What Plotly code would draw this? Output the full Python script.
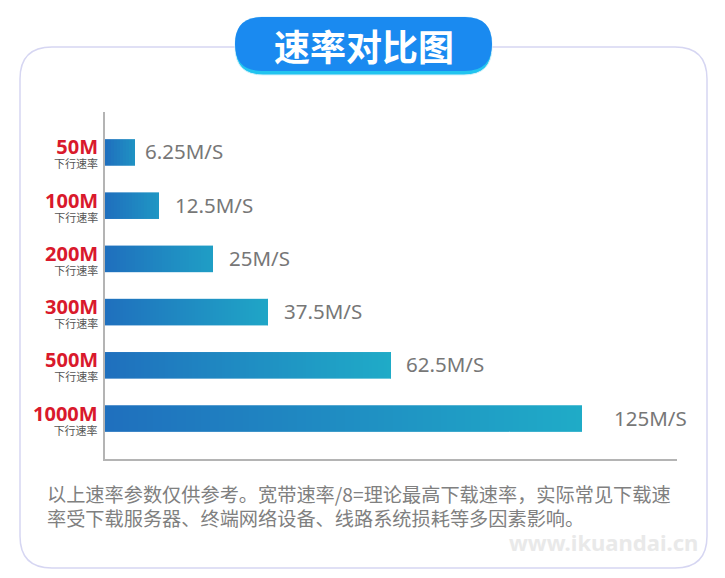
import plotly.graph_objects as go

# categories and read-off values
speeds = ['50M', '100M', '200M', '300M', '500M', '1000M']
rates = ['6.25M/S', '12.5M/S', '25M/S', '37.5M/S', '62.5M/S', '125M/S']
# drawn bar lengths as measured in the picture, they are not proportional to the rates
bar_lengths = [30, 54, 108, 163, 286, 477]
label_gaps = [8, 14, 14, 14, 13, 30]

title = '速率对比图'
sub_label = '下行速率'
note_lines = ['以上速率参数仅供参考。宽带速率/8=理论最高下载速率，实际常见下载速',
              '率受下载服务器、终端网络设备、线路系统损耗等多因素影响。']
watermark = 'www.ikuandai.cn'

W, H = 725, 578
STEP = 3
SANS = 'Noto Sans, Noto Sans CJK SC, sans-serif'
CJK = 'Noto Sans CJK SC, Noto Sans, sans-serif'


def px(x):
    return x / W


def py(y):
    return 1 - y / H


def rounded(x0, y0, x1, y1, r):
    # rounded rectangle path in paper coordinates, given in page pixels
    return (f'M {px(x0 + r)} {py(y0)} L {px(x1 - r)} {py(y0)} '
            f'Q {px(x1)} {py(y0)} {px(x1)} {py(y0 + r)} L {px(x1)} {py(y1 - r)} '
            f'Q {px(x1)} {py(y1)} {px(x1 - r)} {py(y1)} L {px(x0 + r)} {py(y1)} '
            f'Q {px(x0)} {py(y1)} {px(x0)} {py(y1 - r)} L {px(x0)} {py(y0 + r)} '
            f'Q {px(x0)} {py(y0)} {px(x0 + r)} {py(y0)} Z')


def mix(t):
    # left blue to right teal
    a, b = (31, 112, 190), (31, 172, 200)
    return 'rgb(%d,%d,%d)' % tuple(a[i] + (b[i] - a[i]) * t for i in range(3))


# each bar is cut in thin pieces to get the horizontal gradient
ys, xs, bases, colors = [], [], [], []
for speed, length in zip(speeds, bar_lengths):
    # short bars do not run the whole way to the teal end
    end = 0.55 + 0.45 * min(length / 200, 1)
    for start in range(0, length, STEP):
        ys.append(speed)
        xs.append(min(STEP, length - start))
        bases.append(start)
        colors.append(mix(end * start / length))

fig = go.Figure(go.Bar(y=ys, x=xs, base=bases, orientation='h', width=0.5,
                       marker=dict(color=colors, line_width=0),
                       hoverinfo='skip'))

annotations = []
for speed, rate, length, gap in zip(speeds, rates, bar_lengths, label_gaps):
    # one annotation for both lines, line spacing follows the small base size
    label = f"<span style='font-size:20px;color:#d9192c;font-weight:700'>{speed}</span><br>{sub_label}"
    annotations.append(dict(x=px(100), xref='paper', y=speed, yref='y', yshift=0,
                            text=label, showarrow=False, xanchor='right', yanchor='middle',
                            align='right', font=dict(family=SANS, size=11, color='#555555')))
    annotations.append(dict(x=length + gap, xref='x', y=speed, yref='y', yshift=1,
                            text=rate, showarrow=False, xanchor='left', yanchor='middle',
                            font=dict(family=SANS, size=20.5, color='#777777')))

annotations.append(dict(x=px(364), y=py(45), xref='paper', yref='paper', text=title,
                        showarrow=False, yanchor='middle',
                        font=dict(family=CJK, size=36, color='white', weight=700)))
for line, y in zip(note_lines, [494, 518]):
    annotations.append(dict(x=px(45), y=py(y), xref='paper', yref='paper', text=line,
                            showarrow=False, xanchor='left', yanchor='middle',
                            font=dict(family=CJK, size=19.2, color='#808080')))
annotations.append(dict(x=px(700), y=py(542), xref='paper', yref='paper', text=watermark,
                        showarrow=False, xanchor='right', yanchor='middle',
                        font=dict(family=SANS, size=22, color='#e9e9e9', weight=700)))

shapes = [
    dict(type='path', path=rounded(20, 47, 707, 568, 32), xref='paper', yref='paper',
         line=dict(color='#d6d6f2', width=1.5), fillcolor='white', layer='below'),
    dict(type='path', path=rounded(235, 17, 492, 75, 28), xref='paper', yref='paper',
         line=dict(color='#d8f2fb', width=1), fillcolor='#22c4ef', layer='below'),
    dict(type='path', path=rounded(235, 17, 492, 71, 27), xref='paper', yref='paper',
         line_width=0, fillcolor='#1a8af0', layer='below'),
]

fig.update_layout(
    width=W, height=H, margin=dict(l=0, r=0, t=0, b=0),
    paper_bgcolor='white', plot_bgcolor='rgba(0,0,0,0)', showlegend=False,
    barmode='overlay', shapes=shapes, annotations=annotations,
    xaxis=dict(domain=[px(105), px(677)], range=[0, 572], showgrid=False, zeroline=False,
               showticklabels=False, ticks='', showline=True, linecolor='#b4b4b4', linewidth=2),
    yaxis=dict(domain=[py(459), py(112)], type='category', categoryorder='array',
               categoryarray=speeds, range=[5.76, -0.76], showgrid=False, zeroline=False,
               showticklabels=False, ticks='', showline=True, linecolor='#b4b4b4', linewidth=2),
)

fig.write_html('out.html', config=dict(displayModeBar=False),
               post_script="document.body.style.margin='0';")
